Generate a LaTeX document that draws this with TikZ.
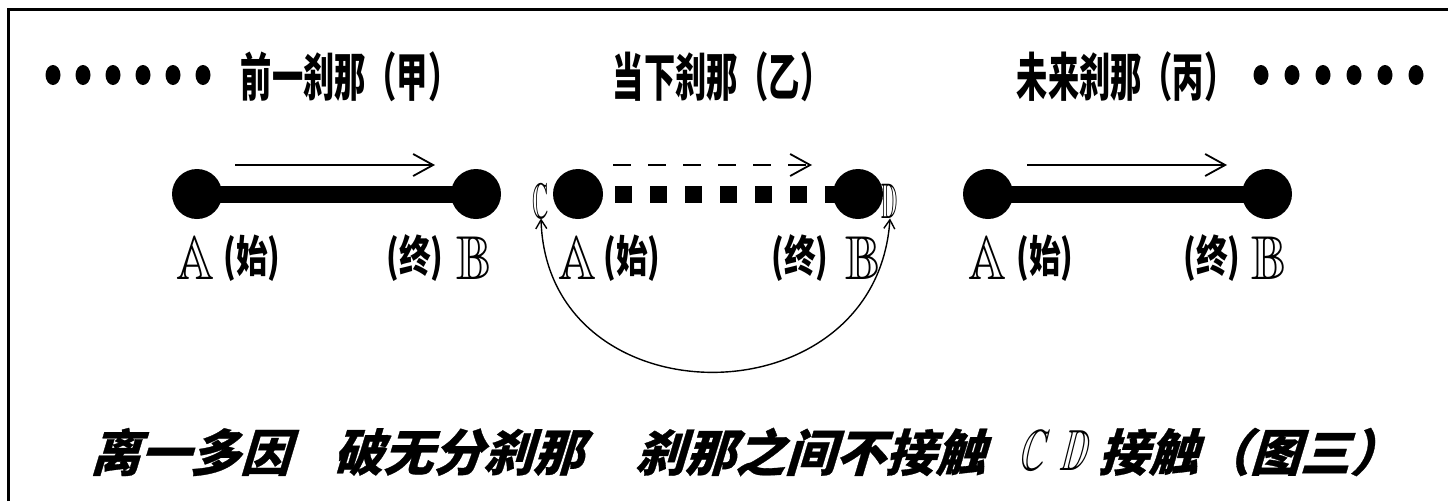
\documentclass[tikz,border=0pt]{standalone}
\usepackage{fontspec}
\usepackage{amssymb}
\usepackage{graphicx}
\usetikzlibrary{arrows.meta}
\newfontfamily\cjk{Noto Sans CJK SC}
\newfontfamily\cjkit{Noto Sans CJK SC}[FakeSlant=0.3,FakeBold=0.6]
\tikzset{
  frameline/.style={line width=3pt},
  ball/.style={circle, fill=black, minimum size=50pt, inner sep=0pt},
  bar/.style={line width=17pt},
  squarebar/.style={line width=17pt, dash pattern=on 17pt off 18pt},
  toparrow/.style={line width=1.8pt, -{Straight Barb[length=20pt,width=22pt,line width=1.8pt]}},
  dasharrow/.style={line width=1.8pt, dash pattern=on 18pt off 17pt, -{Straight Barb[length=20pt,width=22pt,line width=1.8pt]}},
  curvearrow/.style={line width=1.4pt, {Straight Barb[length=9pt,width=11pt]}-{Straight Barb[length=9pt,width=11pt]}},
  title/.style={inner sep=0pt, font=\cjk\bfseries\fontsize{52}{60}\selectfont},
  cjklabel/.style={inner sep=0pt, font=\cjk\bfseries\fontsize{44}{50}\selectfont},
  bblabel/.style={inner sep=0pt, font=\fontsize{62}{66}\selectfont},
  cdlabel/.style={inner sep=0pt, font=\fontsize{50}{54}\selectfont},
  motto/.style={inner sep=0pt, font=\cjkit\bfseries\fontsize{50}{60}\selectfont},
}
\begin{document}
\begin{tikzpicture}[x=1pt,y=-1pt]
\useasboundingbox (0,0) rectangle (1448,501);
% frame
\coordinate (f1) at (8,501);
\coordinate (f2) at (8,9);
\coordinate (f3) at (1448,9);
\draw[frameline] (f1) -- (f2) -- (f3);

% dots
\foreach \i in {0,...,5} {
  \fill ({53+30*\i},75) ellipse [x radius=7.5, y radius=10];
  \fill ({1261+31*\i},75) ellipse [x radius=7.5, y radius=10];
}
% titles
\node[title] (t1) at (350,77) {\scalebox{0.6}[1]{前一刹那（甲）}};
\node[title] (t2) at (722,77) {\scalebox{0.6}[1]{当下刹那（乙）}};
\node[title] (t3) at (1126,77) {\scalebox{0.6}[1]{未来刹那（丙）}};

% segment 1
\node[ball] (a1) at (197,194) {};
\node[ball] (b1) at (476,194) {};
\draw[bar] (a1.center) -- (b1.center);
\coordinate (p1s) at (235,165);
\coordinate (p1e) at (435,165);
\draw[toparrow] (p1s) -- (p1e);
\node[bblabel] (A1) at (196,258) {\scalebox{0.85}[1]{$\mathbb{A}$}};
\node[cjklabel] (s1) at (252,258) {\scalebox{0.72}[1]{(始)}};
\node[cjklabel] (e1) at (415,258) {\scalebox{0.72}[1]{(终)}};
\node[bblabel] (B1) at (474,258) {\scalebox{0.85}[1]{$\mathbb{B}$}};

% segment 2
\coordinate (q1) at (615,194);
\coordinate (q2) at (843,194);
\draw[squarebar] (q1) -- (q2);
\node[ball] (a2) at (578,194) {};
\node[ball] (b2) at (858,194) {};
\coordinate (p2s) at (613,165);
\coordinate (p2e) at (812,165);
\draw[dasharrow] (p2s) -- (p2e);
\node[cdlabel] (C) at (541,201) {\scalebox{0.45}[1]{$\mathbb{C}$}};
\node[cdlabel] (D) at (890,201) {\scalebox{0.45}[1]{$\mathbb{D}$}};
\node[bblabel] (A2) at (578,258) {\scalebox{0.85}[1]{$\mathbb{A}$}};
\node[cjklabel] (s2) at (632,258) {\scalebox{0.72}[1]{(始)}};
\node[cjklabel] (e2) at (800,258) {\scalebox{0.72}[1]{(终)}};
\node[bblabel] (B2) at (863,258) {\scalebox{0.85}[1]{$\mathbb{B}$}};
\draw[curvearrow] (C.south) .. controls (547,423) and (876,423) .. (D.south);

% segment 3
\node[ball] (a3) at (988,194) {};
\node[ball] (b3) at (1267,194) {};
\draw[bar] (a3.center) -- (b3.center);
\coordinate (p3s) at (1027,165);
\coordinate (p3e) at (1227,165);
\draw[toparrow] (p3s) -- (p3e);
\node[bblabel] (A3) at (988,258) {\scalebox{0.85}[1]{$\mathbb{A}$}};
\node[cjklabel] (s3) at (1045,258) {\scalebox{0.72}[1]{(始)}};
\node[cjklabel] (e3) at (1212,258) {\scalebox{0.72}[1]{(终)}};
\node[bblabel] (B3) at (1269,258) {\scalebox{0.85}[1]{$\mathbb{B}$}};

% bottom motto
\node[motto] (m1) at (190,452) {离一多因};
\node[motto] (m2) at (458,452) {破无分刹那};
\node[motto] (m3) at (810,452) {刹那之间不接触};
\begin{scope}[shift={(1035,451)}, xslant=0.25]
  \node[inner sep=0pt, font=\fontsize{58}{62}\selectfont, transform shape] (mc) at (0,0) {\scalebox{0.6}[1]{$\mathbb{C}$}};
\end{scope}
\begin{scope}[shift={(1077,451)}, xslant=0.25]
  \node[inner sep=0pt, font=\fontsize{58}{62}\selectfont, transform shape] (md) at (0,0) {\scalebox{0.6}[1]{$\mathbb{D}$}};
\end{scope}
\node[motto] (m4) at (1148,452) {接触};
\node[motto] (m5) at (1300,452) {（图三）};
\end{tikzpicture}
\end{document}
